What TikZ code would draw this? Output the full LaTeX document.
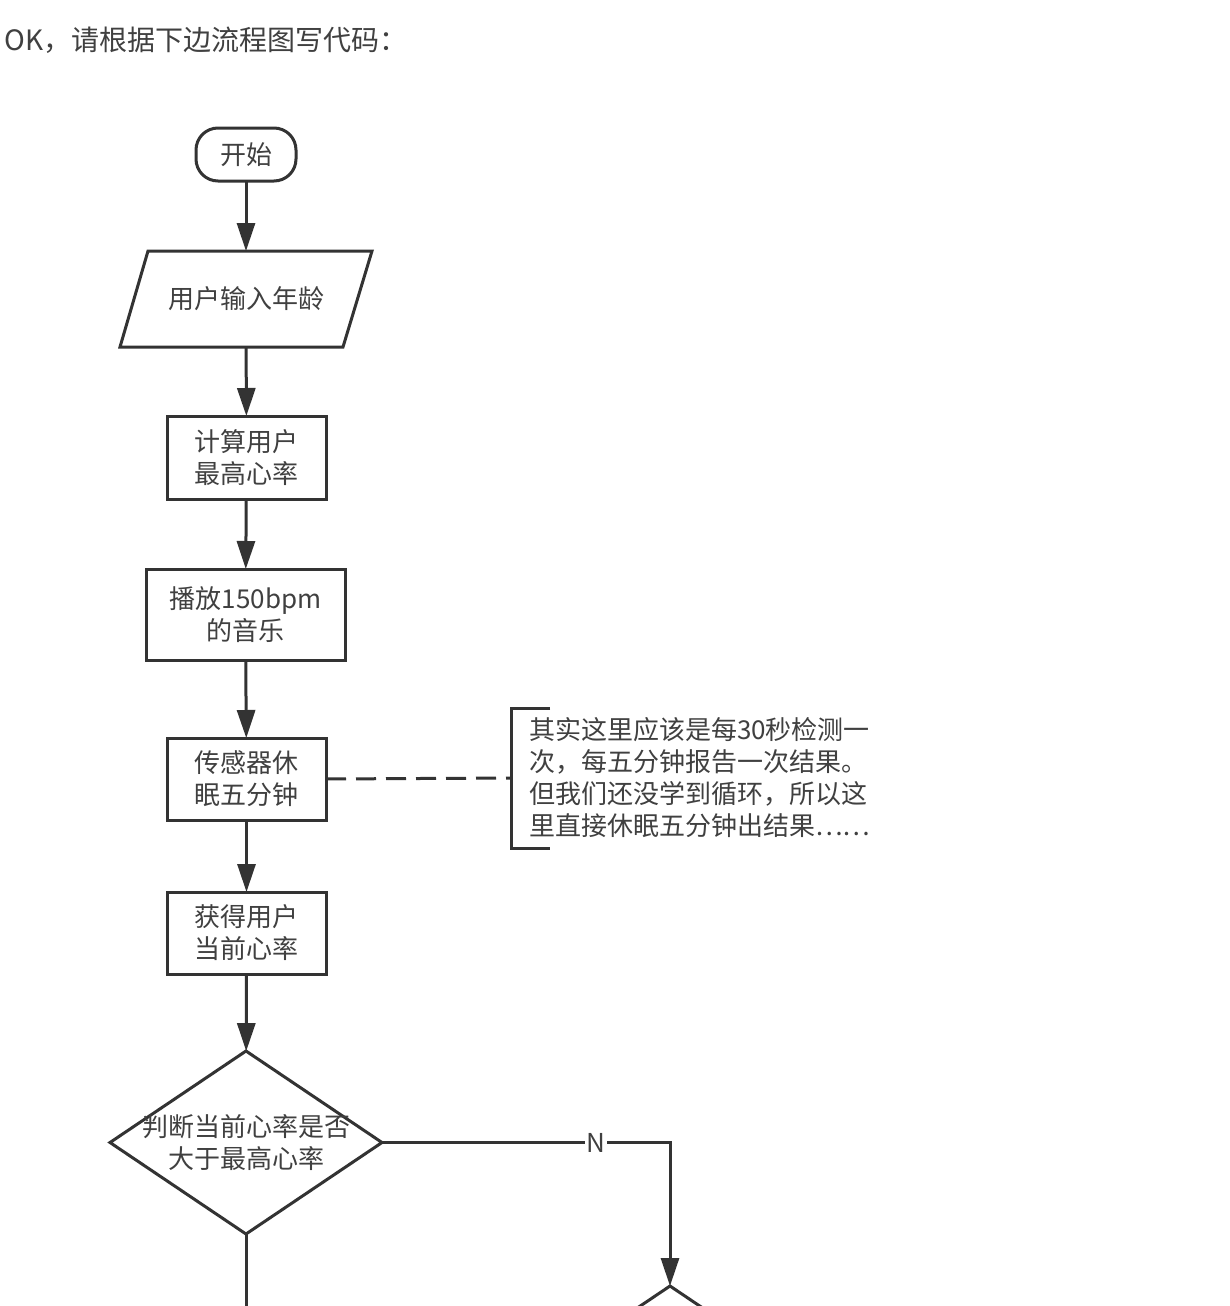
\documentclass[tikz,border=0pt]{standalone}
\usepackage{fontspec}
\setmainfont{Noto Sans CJK SC}
\usetikzlibrary{arrows.meta,shapes.geometric}
\definecolor{ink}{HTML}{333333}
\definecolor{txt}{HTML}{404040}
\begin{document}
\begin{tikzpicture}[x=1pt,y=-1pt,
  every node/.style={font=\fontsize{26}{32}\selectfont, text=txt, inner sep=0pt, outer sep=0pt},
  line/.style={draw=ink, line width=3pt},
  arr/.style={line, -{Triangle[length=28pt,width=18pt]}},
  stepbox/.style={line, rectangle, align=center},
  term/.style={line, rectangle, rounded corners=22pt, minimum width=100pt, minimum height=53pt},
  decide/.style={line, diamond, minimum width=272pt, minimum height=183pt},
]
\fill[white] (0,0) rectangle (1230,1306);
\useasboundingbox (0,0) rectangle (1230,1306);
\clip (0,0) rectangle (1230,1306);

% header
\node[anchor=west, font=\fontsize{28}{32}\selectfont] (head) at (5,40) {OK，请根据下边流程图写代码：};

% start
\node[term] (start) at (246,154.5) {开始};

% input parallelogram
\node[minimum width=224pt, minimum height=96pt] (io) at (246,299) {用户输入年龄};
\draw[line, line join=miter] (148,251) -- (372,251) -- (343,347) -- (120,347) -- cycle;

% boxes
\node[stepbox, minimum width=159pt, minimum height=83pt] (s1) at (246.5,457.5) {计算用户\\最高心率};
\node[stepbox, minimum width=199pt, minimum height=91pt] (s2) at (245.5,614.5) {播放150bpm\\的音乐};
\node[stepbox, minimum width=159pt, minimum height=82pt] (s3) at (246.5,779) {传感器休\\眠五分钟};
\node[stepbox, minimum width=159pt, minimum height=82pt] (s4) at (246.5,933) {获得用户\\当前心率};

% decision
\node[decide] (d) at (246,1142.5) {};
\node[align=center] (dt) at (d.center) {判断当前心率是否\\大于最高心率};
\node[decide] (d2) at (670,1377.5) {};

% arrows
\draw[arr] (start) -- (io);
\draw[arr] (io) -- (s1);
\draw[arr] (s1) -- (s2);
\draw[arr] (s2) -- (s3);
\draw[arr] (s3) -- (s4);
\draw[arr] (s4) -- (d);

% N branch
\coordinate (nc) at (670,1142.5);
\draw[arr] (d.east) -- (nc) -- (d2.north);
\node[fill=white, inner xsep=2pt, inner ysep=1pt] (nlab) at (596,1142.5) {N};

% bottom line
\coordinate (bot) at (246,1315);
\draw[line] (d.south) -- (bot);

% annotation
\coordinate (br) at (511,778);
\draw[line, dash pattern=on 20pt off 10pt] (s3.east) -- (br);
\draw[line] (550,708) -- (511,708) -- (511,848) -- (550,848);
\node[anchor=west, align=left] (note) at (529,777.5) {其实这里应该是每30秒检测一\\次，每五分钟报告一次结果。\\但我们还没学到循环，所以这\\里直接休眠五分钟出结果……};
\end{tikzpicture}
\end{document}
